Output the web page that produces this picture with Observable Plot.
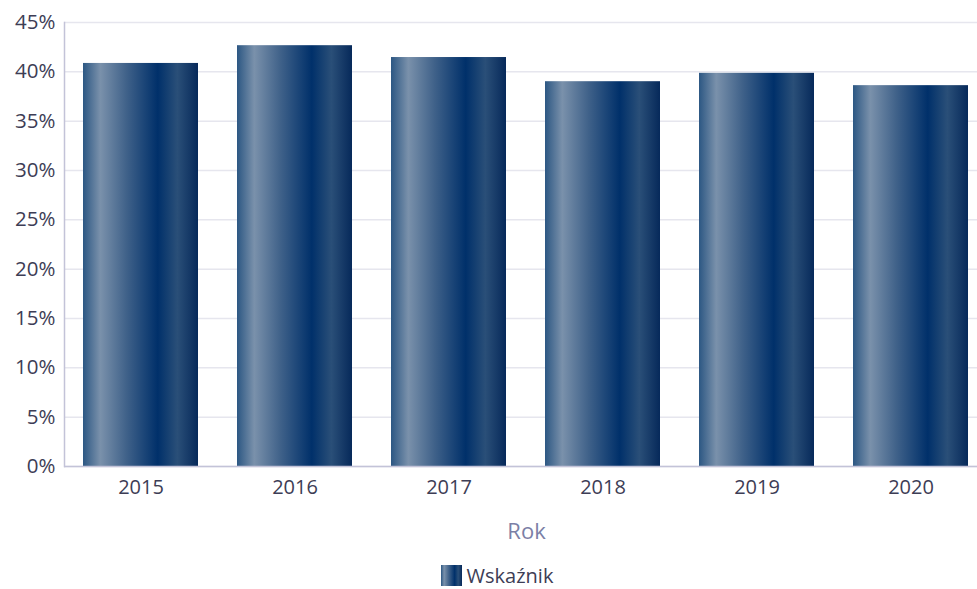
<!DOCTYPE html>
<html>
<head>
<meta charset="utf-8">
<script src="https://cdn.jsdelivr.net/npm/d3@7"></script>
<script src="https://cdn.jsdelivr.net/npm/@observablehq/plot@0.6"></script>
<style>
  html, body { margin: 0; padding: 0; background: #fff; overflow: hidden; }
  body { font-family: "Open Sans", sans-serif; width: 977px; }
  #legend { display: flex; justify-content: center; align-items: center; gap: 5px; margin-top: 12px;
            font-size: 20px; color: #3d3d55; padding-left: 17px; }
  #legend .sw { width: 21px; height: 21px;
    background: linear-gradient(to right, #2c5783 0%, #7a91ab 15%, #3f6189 38%, #00306a 65%, #2a4f78 82%, #06295a 100%); }
</style>
</head>
<body>
<div id="chart"></div>
<div id="legend"><span class="sw"></span><span class="lbl"></span></div>
<script>
const years = ["2015", "2016", "2017", "2018", "2019", "2020"];
const values = [40.85, 42.65, 41.45, 39.0, 39.85, 38.6];
const yTicks = [0, 5, 10, 15, 20, 25, 30, 35, 40, 45];
const seriesName = "Wskaźnik";
const xLabel = "Rok";

const data = years.map((year, i) => ({year, value: values[i]}));

const plot = Plot.plot({
  width: 977,
  height: 550,
  marginLeft: 64,
  marginRight: -11,
  marginTop: 22,
  marginBottom: 84,
  style: {fontFamily: "'Open Sans', sans-serif", fontSize: "20px", color: "#3d3d55", background: "#fff", overflow: "visible"},
  x: {domain: years, paddingInner: 0.253, paddingOuter: 0.1265, label: null},
  y: {domain: [0, 45], label: null},
  marks: [
    Plot.gridY(yTicks, {stroke: "#e6e6ee", strokeOpacity: 1, strokeWidth: 1.5}),
    Plot.barY(data, {x: "year", y: "value", fill: "url(#barGrad)"}),
    Plot.ruleY([0], {stroke: "#c3c3d8", strokeWidth: 1.5}),
    Plot.frame({anchor: "left", stroke: "#c3c3d8", strokeWidth: 1.5}),
    Plot.axisY(yTicks, {tickSize: 0, tickPadding: 9, tickFormat: d => d + "%", label: null, fill: "#3d3d55", fontSize: 20.5}),
    Plot.axisX({tickSize: 0, tickPadding: 13, label: xLabel, labelAnchor: "center", labelOffset: 72, fill: "#3d3d55", fontSize: 20})
  ]
});

const svg = d3.select(plot);
const grad = svg.insert("defs", ":first-child").append("linearGradient")
  .attr("id", "barGrad").attr("x1", 0).attr("x2", 1).attr("y1", 0).attr("y2", 0);
[[0, "#2c5783"], [0.15, "#7a91ab"], [0.38, "#3f6189"], [0.65, "#00306a"], [0.82, "#2a4f78"], [1, "#06295a"]]
  .forEach(([o, c]) => grad.append("stop").attr("offset", o).attr("stop-color", c));

document.getElementById("chart").appendChild(plot);
svg.selectAll('g[aria-label="x-axis label"]').attr("fill", "#7b7fa6").attr("font-size", 22);
svg.selectAll('g[aria-label="x-axis label"] text').attr("fill", "#7b7fa6").attr("font-size", 22);
document.querySelector("#legend .lbl").textContent = seriesName;
</script>
</body>
</html>
